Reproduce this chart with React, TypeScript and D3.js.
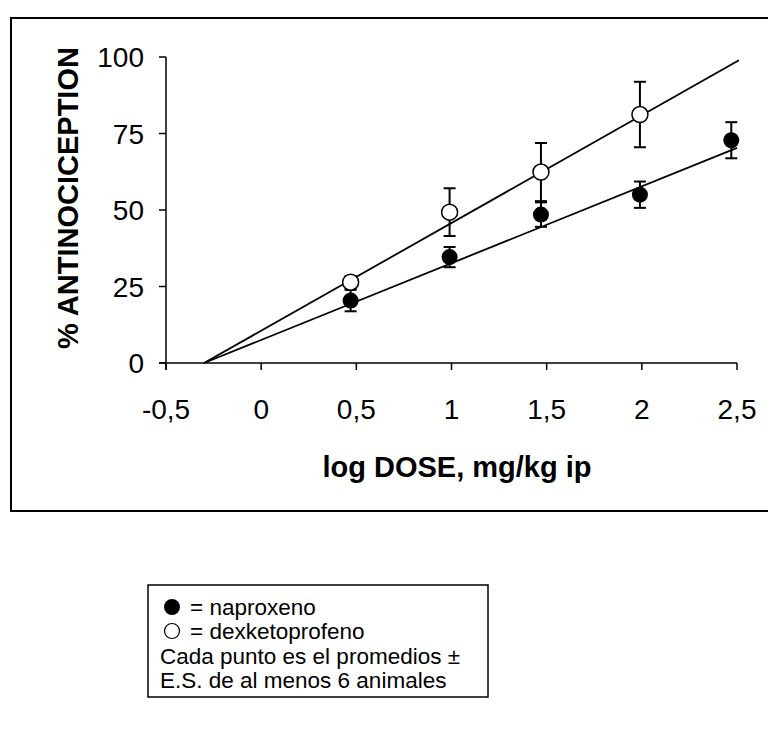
import React from "react";
import * as d3 from "d3";

const xTicks = [-0.5, 0, 0.5, 1, 1.5, 2, 2.5];
const yTicks = [0, 25, 50, 75, 100];

const napDose = [0.47, 0.99, 1.47, 1.99, 2.47];
const napMean = [20.4, 34.6, 48.5, 55.0, 72.8];
const napSE = [3.5, 3.3, 4.0, 4.3, 5.9];

const dexDose = [0.47, 0.99, 1.47, 1.99];
const dexMean = [26.4, 49.3, 62.4, 81.2];
const dexSE = [2.0, 7.8, 9.5, 10.7];

// regression fits: y = slope * x + intercept
const napFit = { slope: 25.1, intercept: 7.53, from: -0.3, to: 2.5 };
const dexFit = { slope: 35.2, intercept: 10.56, from: -0.3, to: 2.51 };

const legendLines = [
  "= naproxeno",
  "= dexketoprofeno",
  "Cada punto es el promedios ±",
  "E.S. de al menos 6 animales",
];

const fmt = (v: number) => String(v).replace(".", ",");

export default function App() {
  const font = "Arial, 'Liberation Sans', sans-serif";
  const x = d3.scaleLinear().domain([-0.5, 2.5]).range([166, 737]);
  const y = d3.scaleLinear().domain([0, 100]).range([363, 57]);

  const fitPath = (f: typeof napFit) =>
    d3.line<number>()
      .x((d) => x(d))
      .y((d) => y(f.slope * d + f.intercept))([f.from, f.to]) as string;

  const capW = 6;
  const r = 8;

  const errorBars = (dose: number[], mean: number[], se: number[]) =>
    dose.map((d, i) => {
      const cx = x(d);
      const top = y(mean[i] + se[i]);
      const bot = y(mean[i] - se[i]);
      return (
        <g key={i} stroke="#000" strokeWidth={2}>
          <line x1={cx} x2={cx} y1={top} y2={bot} />
          <line x1={cx - capW} x2={cx + capW} y1={top} y2={top} />
          <line x1={cx - capW} x2={cx + capW} y1={bot} y2={bot} />
        </g>
      );
    });

  return (
    <svg
      width={768}
      height={753}
      style={{ position: "absolute", left: 0, top: 0, background: "#fff" }}
      fontFamily={font}
    >
      <rect x={0} y={0} width={768} height={753} fill="#fff" />
      {/* outer frame */}
      <rect x={11} y={18} width={770} height={493} fill="none" stroke="#000" strokeWidth={2} />

      {/* axes */}
      <line x1={x(-0.5)} x2={x(-0.5)} y1={y(100)} y2={y(0) + 7} stroke="#000" strokeWidth={1.5} />
      <line x1={x(-0.5) - 7} x2={x(2.5)} y1={y(0)} y2={y(0)} stroke="#000" strokeWidth={1.5} />
      {yTicks.map((t) => (
        <g key={t}>
          <line x1={x(-0.5) - 7} x2={x(-0.5)} y1={y(t)} y2={y(t)} stroke="#000" strokeWidth={1.5} />
          <text x={x(-0.5) - 22} y={y(t)} dy="0.36em" textAnchor="end" fontSize={28}>
            {t}
          </text>
        </g>
      ))}
      {xTicks.map((t) => (
        <g key={t}>
          <line x1={x(t)} x2={x(t)} y1={y(0)} y2={y(0) + 7} stroke="#000" strokeWidth={1.5} />
          <text x={x(t)} y={y(0) + 56} textAnchor="middle" fontSize={28}>
            {fmt(t)}
          </text>
        </g>
      ))}
      <text
        transform={`translate(78, ${(y(0) + y(100)) / 2 - 12}) rotate(-90)`}
        textAnchor="middle"
        fontSize={29}
        fontWeight="bold"
      >
        % ANTINOCICEPTION
      </text>
      <text x={457} y={477} textAnchor="middle" fontSize={29} fontWeight="bold">
        log DOSE, mg/kg ip
      </text>

      {/* fits */}
      <path d={fitPath(dexFit)} fill="none" stroke="#000" strokeWidth={1.8} />
      <path d={fitPath(napFit)} fill="none" stroke="#000" strokeWidth={1.8} />

      {errorBars(dexDose, dexMean, dexSE)}
      {errorBars(napDose, napMean, napSE)}

      {dexDose.map((d, i) => (
        <circle key={i} cx={x(d)} cy={y(dexMean[i])} r={r} fill="#fff" stroke="#000" strokeWidth={1.5} />
      ))}
      {napDose.map((d, i) => (
        <circle key={i} cx={x(d)} cy={y(napMean[i])} r={r} fill="#000" />
      ))}

      {/* legend */}
      <rect x={148} y={585} width={340} height={112} fill="none" stroke="#000" strokeWidth={1.5} />
      <circle cx={172} cy={607} r={8} fill="#000" />
      <circle cx={172} cy={631} r={7.5} fill="#fff" stroke="#000" strokeWidth={1.2} />
      {legendLines.map((t, i) => (
        <text key={i} x={i < 2 ? 190 : 160} y={607 + i * 24.5} dy="0.35em" fontSize={22.5}>
          {t}
        </text>
      ))}
    </svg>
  );
}
